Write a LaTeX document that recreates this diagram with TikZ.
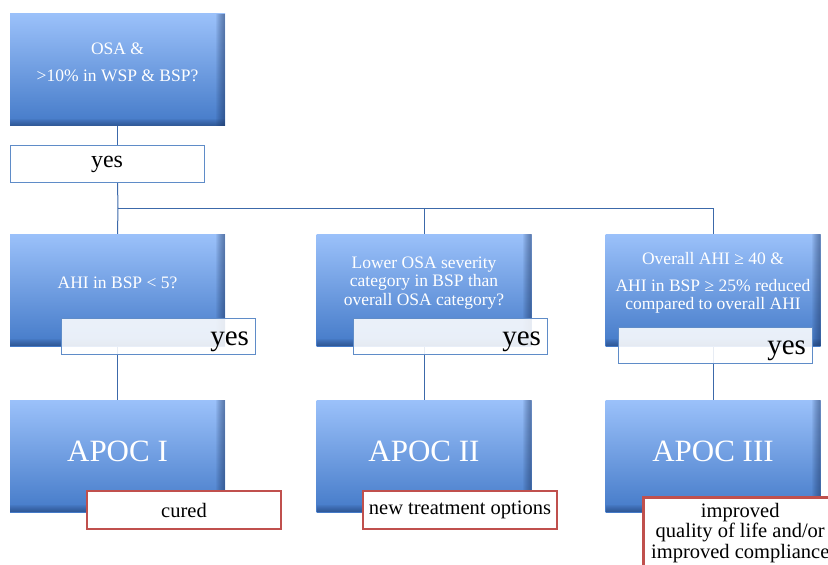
\documentclass[tikz,border=0pt]{standalone}
\usepackage{fontspec}
\setmainfont{Liberation Serif}
\usepackage{tikz}
\usetikzlibrary{positioning, backgrounds}

\definecolor{boxtop}{RGB}{155,193,250}
\definecolor{boxmid}{RGB}{112,160,232}
\definecolor{boxbot}{RGB}{68,122,200}
\definecolor{boxedge}{RGB}{30,55,100}
\definecolor{linkblue}{RGB}{60,105,170}
\definecolor{yesframe}{RGB}{95,140,200}
\definecolor{outred}{RGB}{192,80,77}

\tikzset{
  qbox/.style={rectangle, minimum width=215pt, minimum height=112pt, inner sep=0pt,
    top color=boxtop, middle color=boxmid, bottom color=boxbot,
    path picture={
      \foreach \k in {1,...,9}
        \fill[boxedge, opacity=0.07] ([xshift=-\k pt]path picture bounding box.north east) rectangle (path picture bounding box.south east);
      \foreach \k in {1,...,7}
        \fill[boxedge, opacity=0.08] ([yshift=\k pt]path picture bounding box.south west) rectangle (path picture bounding box.south east);
    }},
  qtext/.style={text=white, align=center, font=\fontsize{17.5}{18.5}\selectfont, yshift=7pt},
  apoctext/.style={text=white, font=\fontsize{31}{33}\selectfont, yshift=5pt},
  yesbox/.style={rectangle, draw=yesframe, fill=white, minimum width=194pt, minimum height=37pt,
    font=\fontsize{24}{26}\selectfont, text height=14pt, text depth=6pt},
  yesover/.style={rectangle, draw=yesframe, fill=white, fill opacity=.88, text opacity=1,
    minimum width=194pt, minimum height=36pt, text width=182pt, align=right, inner sep=0pt,
    font=\fontsize{29}{31}\selectfont, text height=22pt, text depth=4pt},
  outbox/.style={rectangle, draw=outred, line width=2.5pt, fill=white, minimum width=194pt,
    minimum height=38pt, align=center, inner xsep=2pt, font=\fontsize{20.5}{21}\selectfont},
  link/.style={draw=linkblue, line width=1pt}
}

\begin{document}
\begin{tikzpicture}[x=1pt, y=-1pt]
    \useasboundingbox (0,0) rectangle (828,565);

    % Question boxes
    \node[qbox, label={[qtext]center:{OSA \&\\[8pt]>10\% in WSP \& BSP?}}] (osa) at (117.5,69.5) {};
    \node[yesbox] (yes0) at (107,163.5) {yes};

    \node[qbox, label={[qtext]center:{AHI in BSP < 5?}}] (q1) at (117.5,290) {};
    \node[qbox, label={[qtext]center:{Lower OSA severity\\category in BSP than\\overall OSA category?}}] (q2) at (424,290) {};
    \node[qbox, label={[qtext]center:{Overall AHI ≥ 40 \&\\[8pt]AHI in BSP ≥ 25\% reduced\\compared to overall AHI}}] (q3) at (713,290) {};

    \node[yesover] (yes1) at (158,336) {yes};
    \node[yesover] (yes2) at (450,336) {yes};
    \node[yesover] (yes3) at (715,345.5) {yes};

    % Outcome boxes
    \node[qbox, label={[apoctext]center:APOC I}] (apoc1) at (117.5,456) {};
    \node[qbox, label={[apoctext]center:APOC II}] (apoc2) at (424,456) {};
    \node[qbox, label={[apoctext]center:APOC III}] (apoc3) at (713,456) {};

    \node[outbox] (out1) at (184,510) {cured};
    \node[outbox] (out2) at (460,510) {new treatment options};
    \node[outbox, anchor=north west, inner ysep=6pt, font=\fontsize{20.5}{20.5}\selectfont] (out3) at (642,496) {improved\\quality of life and/or\\improved compliance};

    % Connectors
    \coordinate (split) at (118,208);
    \begin{scope}[on background layer]
        \draw[link] (osa) -- (yes0.north -| osa);
        \draw[link] (yes0.south -| osa) -- (split);
        \draw[link] (split) -- (q1.north);
        \draw[link] (split) -| (q2.north);
        \draw[link] (split) -| (q3.north);
        \draw[link] (q1) -- (apoc1);
        \draw[link] (q2) -- (apoc2);
        \draw[link] (q3) -- (apoc3);
    \end{scope}
\end{tikzpicture}
\end{document}
